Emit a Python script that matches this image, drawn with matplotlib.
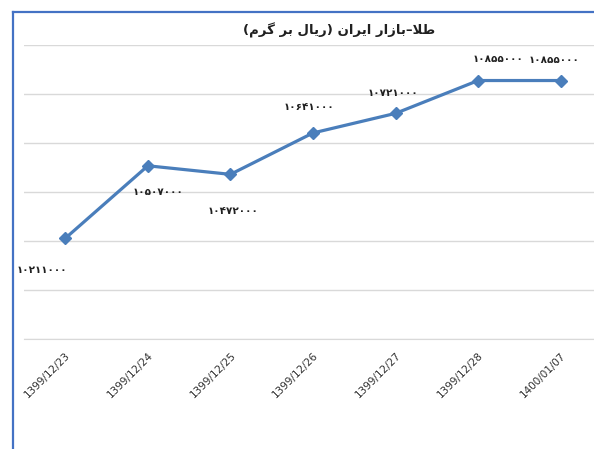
import matplotlib
matplotlib.use("Agg")
import matplotlib.pyplot as plt
from matplotlib.lines import Line2D

# ---- data ----
dates = ["1399/12/23", "1399/12/24", "1399/12/25", "1399/12/26",
         "1399/12/27", "1399/12/28", "1400/01/07"]
prices = [10211000, 10507000, 10472000, 10641000, 10721000, 10855000, 10855000]
# title pre-shaped (Arabic presentation forms, visual order) : طلا–بازار ایران (ریال بر گرم)
title_text = "(\uFEE1\uFEAE\uFB94 \uFEAE\uFE91 \uFEDD\uFE8E\uFBFE\uFEAD) \uFEE5\uFE8D\uFEAE\uFBFE\uFE8D \uFEAD\uFE8D\uFEAF\uFE8E\uFE91\u2013\uFEFC\uFEC3"
y_min, y_max, y_step = 9800000, 11000000, 200000

# label offsets in pixels (style)
label_offsets = [(-23, -32), (10, -26), (3, -37), (-4, 26), (-3, 20), (20, 22), (-7, 21)]

fa_digits = str.maketrans("0123456789", "۰۱۲۳۴۵۶۷۸۹")

W, H = 594, 449
fig = plt.figure(figsize=(W / 100, H / 100), dpi=100)
fig.patch.set_facecolor("white")

ax = fig.add_axes([24 / W, (H - 339) / H, 578 / W, (339 - 45) / H])
ax.set_facecolor("white")
x = list(range(len(dates)))
color = "#4A7EBB"
ax.plot(x, prices, color=color, lw=2.3, marker="D", markersize=6,
        markerfacecolor=color, markeredgecolor=color, zorder=3, clip_on=False)

ax.set_xlim(-0.5, len(dates) - 0.5)
ax.set_ylim(y_min, y_max)
ax.set_yticks(list(range(y_min, y_max + 1, y_step)))
ax.yaxis.grid(True, color="#D9D9D9", lw=1.0)
ax.set_axisbelow(True)
ax.tick_params(axis="y", left=False, labelleft=False)
ax.tick_params(axis="x", length=0, pad=8)
ax.set_xticks(x)
ax.set_xticklabels(dates, rotation=45, ha="right", fontsize=7.5, color="#303030",
                   rotation_mode="anchor")
for s in ["left", "right", "top"]:
    ax.spines[s].set_visible(False)
ax.spines["bottom"].set_color("#D9D9D9")

for xi, v, (dx, dy) in zip(x, prices, label_offsets):
    ax.annotate(str(v).translate(fa_digits), (xi, v), xytext=(dx, dy),
                textcoords="offset pixels", ha="center", va="center",
                fontsize=7.5, fontweight="bold", color="#202020",
                family=["DejaVu Sans"], annotation_clip=False)

fig.text(339 / W, (H - 30) / H, title_text, ha="center", va="center",
         fontsize=9.5, fontweight="bold", color="#202020", family=["DejaVu Sans"])

# blue chart frame (left and top edges)
fc = "#4472C4"
fig.add_artist(Line2D([13 / W, 13 / W], [0, (H - 12) / H], color=fc, lw=1.6,
                      transform=fig.transFigure))
fig.add_artist(Line2D([13 / W, 1.01], [(H - 12) / H, (H - 12) / H], color=fc, lw=1.6,
                      transform=fig.transFigure))

fig.savefig("out.png", dpi=100, facecolor="white")
